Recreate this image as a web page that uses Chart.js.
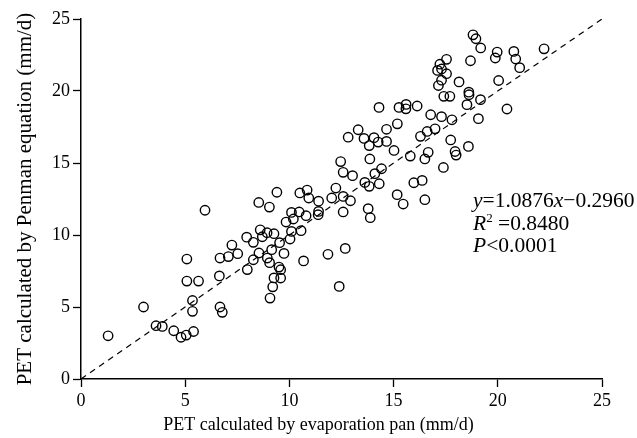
<!DOCTYPE html>
<html>
<head>
<meta charset="utf-8">
<script src="https://cdn.jsdelivr.net/npm/chart.js@4"></script>
<style>
  body { margin: 0; background: #fff; }
  #wrap { width: 637px; height: 438px; }
</style>
</head>
<body>
<div id="wrap"><canvas id="petCanvas" width="637" height="438"></canvas></div>
<script>
// PET by evaporation pan (x) vs PET by Penman equation (y), mm/d
let panPET = [
    1.3, 3.0, 3.6, 3.9, 4.45, 4.8, 5.05, 5.4, 5.08, 5.08, 5.64, 5.35, 5.35, 5.95, 6.67, 7.07, 6.64, 6.67, 6.78, 7.24,
    7.52, 7.95, 7.98, 8.27, 8.27, 8.53, 8.54, 8.6, 8.7, 8.93, 8.94, 9.05, 9.04, 9.07, 9.2, 9.15, 9.26, 9.26, 9.4, 9.5,
    9.58, 9.58, 9.53, 9.74, 9.84, 10.03, 10.1, 10.1, 10.19, 10.47, 10.5, 10.56, 10.68, 10.8, 10.85, 10.93, 11.4, 11.38, 11.4, 11.85,
    12.03, 12.39, 12.58, 13.03, 14.1, 14.42, 13.62, 13.83, 14.31, 15.97, 16.37, 15.17, 15.46, 16.5, 12.23, 12.58, 12.93, 12.58, 13.78, 13.88,
    12.68, 14.3, 15.26, 15.6, 15.59, 16.13, 16.78, 17.3, 17.8, 15.18, 13.3, 12.82, 13.58, 14.06, 14.66, 13.83, 14.26, 14.66, 16.29, 16.61,
    16.99, 15.02, 15.8, 16.66, 16.5, 13.86, 12.46, 17.39, 17.74, 17.95, 18.0, 18.59, 19.07, 18.52, 18.62, 18.61, 19.17, 18.14, 18.69, 17.41,
    17.7, 17.3, 17.15, 17.11, 17.3, 17.54, 17.22, 17.54, 18.81, 18.95, 19.18, 19.88, 19.97, 20.77, 20.86, 21.05, 20.04, 22.22, 20.44
];
let penmanPET = [
    3.0, 5.0, 3.7, 3.65, 3.35, 2.9, 3.05, 3.3, 8.33, 6.8, 6.8, 5.45, 4.7, 11.72, 8.4, 8.5, 7.16, 5.0, 4.63, 9.3,
    8.7, 9.85, 7.6, 9.49, 8.28, 12.26, 8.75, 10.36, 9.88, 10.16, 8.4, 8.08, 11.94, 5.62, 6.4, 8.98, 7.02, 10.09, 12.97, 7.77,
    7.59, 7.01, 9.47, 8.72, 10.9, 9.72, 10.25, 11.57, 11.11, 11.6, 12.92, 10.3, 8.2, 11.34, 13.12, 12.57, 12.35, 11.41, 11.64, 8.66,
    12.57, 6.43, 14.35, 14.12, 14.26, 14.6, 13.65, 13.38, 13.56, 13.63, 13.79, 12.8, 12.15, 12.45, 13.26, 12.68, 12.38, 11.6, 11.83, 11.2,
    9.07, 18.86, 18.86, 19.07, 18.76, 18.96, 18.35, 18.22, 18.0, 17.72, 17.31, 16.79, 16.71, 16.76, 17.34, 16.21, 16.45, 16.5, 16.85, 17.19,
    17.37, 15.87, 15.48, 15.74, 15.28, 15.28, 15.1, 14.69, 16.6, 15.8, 15.55, 16.15, 18.08, 19.05, 19.74, 19.92, 19.4, 20.63, 22.1, 19.63,
    19.63, 20.75, 20.38, 21.43, 21.53, 21.2, 21.86, 22.2, 23.9, 23.63, 22.99, 22.29, 22.7, 22.75, 22.22, 21.62, 20.73, 22.93, 18.75
];

// 1:1 reference line
let refLineX = [0, 25];
let refLineY = [0, 25];

let axisTicks = [0, 5, 10, 15, 20, 25];

let xTitle = 'PET calculated by evaporation pan (mm/d)';
let yTitle = 'PET calculated by Penman equation (mm/d)';

let fitText = [
    [['y', true], ['=1.0876', false], ['x', true], ['\u22120.2960', false]],
    [['R', true], ['2', 'sup'], [' =0.8480', false]],
    [['P', true], ['<0.0001', false]]
];

let serif = '"Liberation Serif", "Times New Roman", serif';

let points = panPET.map(function(v, i) { return {x: v, y: penmanPET[i]}; });
let refLine = refLineX.map(function(v, i) { return {x: v, y: refLineY[i]}; });

// regression text block + x axis title (the x title sits centred on the page, not the plot)
let annotationPlugin = {
    id: 'fitAnnotation',
    afterDraw: function(chart) {
        let ctx = chart.ctx;
        let startX = 473;
        let baselines = [207, 229.5, 251.5];
        ctx.save();
        ctx.fillStyle = '#000';
        ctx.textBaseline = 'alphabetic';
        fitText.forEach(function(line, li) {
            let x = startX;
            line.forEach(function(part) {
                let y = baselines[li];
                if (part[1] === 'sup') {
                    ctx.font = '13px ' + serif;
                    y -= 8;
                } else {
                    ctx.font = (part[1] ? 'italic ' : '') + '21.5px ' + serif;
                }
                ctx.fillText(part[0], x, y);
                x += ctx.measureText(part[0]).width;
            });
        });

        ctx.font = '18px ' + serif;
        ctx.textAlign = 'center';
        ctx.textBaseline = 'middle';
        ctx.fillText(xTitle, chart.width / 2, chart.scales.x.bottom - 13);
        ctx.restore();
    }
};

let ctx = document.getElementById('petCanvas').getContext('2d');

let chart = new Chart(ctx, {
    type: 'scatter',
    data: {
        datasets: [{
            label: 'PET',
            data: points,
            pointRadius: 4.7,
            pointBorderWidth: 1.4,
            borderColor: '#000',
            backgroundColor: 'rgba(0,0,0,0)',
            pointHoverRadius: 4.7
        }, {
            type: 'line',
            label: '1:1',
            data: refLine,
            borderColor: '#000',
            borderWidth: 1.2,
            borderDash: [6, 5],
            pointRadius: 0,
            fill: false
        }]
    },
    options: {
        responsive: false,
        animation: false,
        events: [],
        layout: {
            padding: {left: 0, right: 35, top: 19, bottom: 0}
        },
        plugins: {
            legend: {display: false},
            tooltip: {enabled: false}
        },
        scales: {
            x: {
                type: 'linear',
                min: 0,
                max: 25,
                afterFit: function(scale) { scale.height = 59; },
                afterBuildTicks: function(scale) {
                    scale.ticks = axisTicks.map(function(v) { return {value: v}; });
                },
                grid: {
                    display: true,
                    drawOnChartArea: false,
                    drawTicks: true,
                    tickLength: 8,
                    tickWidth: 1.3,
                    tickColor: '#000'
                },
                border: {display: true, color: '#000', width: 1.5},
                ticks: {
                    color: '#000',
                    padding: 3,
                    maxRotation: 0,
                    font: {family: serif, size: 18}
                },
                title: {display: false}
            },
            y: {
                type: 'linear',
                min: 0,
                max: 25,
                afterFit: function(scale) { scale.width = 81; },
                afterBuildTicks: function(scale) {
                    scale.ticks = axisTicks.map(function(v) { return {value: v}; });
                },
                grid: {
                    display: true,
                    drawOnChartArea: false,
                    drawTicks: true,
                    tickLength: 8,
                    tickWidth: 1.3,
                    tickColor: '#000'
                },
                border: {display: true, color: '#000', width: 1.5},
                ticks: {
                    color: '#000',
                    padding: 3,
                    font: {family: serif, size: 18}
                },
                title: {
                    display: true,
                    text: yTitle,
                    color: '#000',
                    padding: {top: 13, bottom: 0},
                    font: {family: serif, size: 21, lineHeight: 1.2}
                }
            }
        }
    },
    plugins: [annotationPlugin]
});
</script>
</body>
</html>
